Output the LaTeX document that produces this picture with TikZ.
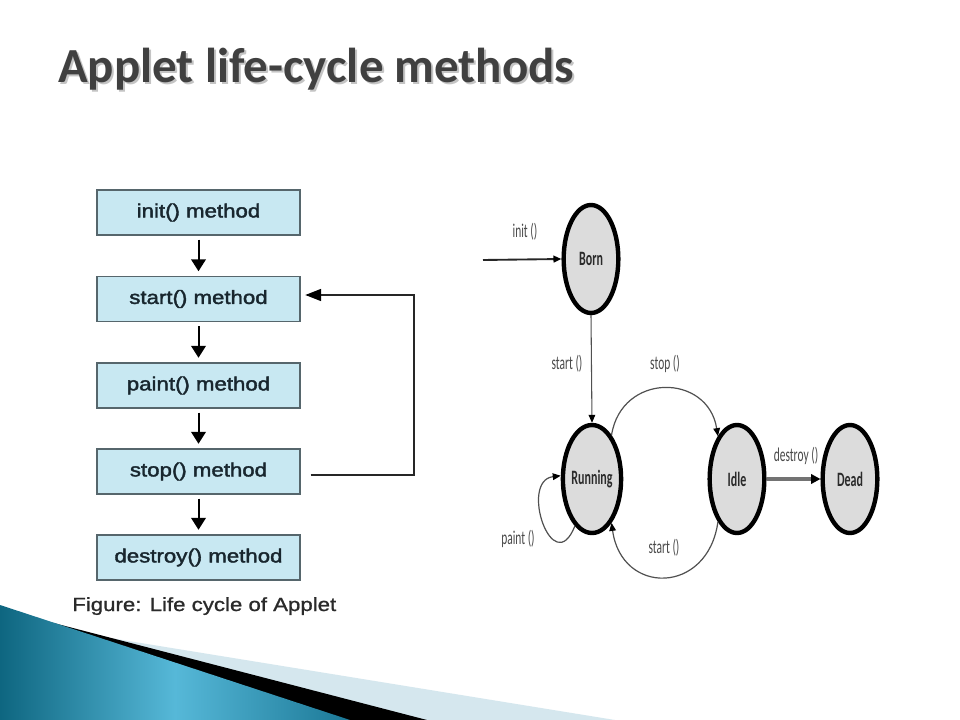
\documentclass[tikz,border=0pt]{standalone}
\usepackage{graphicx}
\usepackage{fontspec}
\setmainfont{Liberation Sans}
\newfontfamily\titlefont{Carlito}
\newfontfamily\boxfont[FakeStretch=1.17,FakeBold=2]{Liberation Sans}
\newfontfamily\capfont[FakeStretch=1.17,FakeBold=1]{Liberation Sans}
\newfontfamily\smallfont{Carlito}
\usetikzlibrary{shapes.geometric,arrows.meta}
\newcommand\myvs[1]{\scalebox{1}[1.7]{#1}}
\definecolor{boxfill}{HTML}{C8E8F2}
\definecolor{boxline}{HTML}{56666C}
\definecolor{boxtext}{HTML}{18262E}
\definecolor{statefill}{HTML}{DCDCDC}
\definecolor{statetext}{HTML}{2B2B2B}
\definecolor{lbltext}{HTML}{4A4A4A}
\definecolor{arcc}{HTML}{505050}
\definecolor{titlec}{HTML}{404040}
\definecolor{shadowc}{HTML}{C4C4C4}
\definecolor{capc}{HTML}{2A2A2A}
\definecolor{tealdark}{HTML}{0E6680}
\definecolor{teallight}{HTML}{56B8D8}
\definecolor{tealmid}{HTML}{1B7896}
\definecolor{stripc}{HTML}{D5E7EE}
\begin{document}
\begin{tikzpicture}[x=0.75pt,y=-0.75pt,
  box/.style={draw=boxline,fill=boxfill,line width=1.1pt,minimum width=152pt,minimum height=33.5pt,inner sep=0pt,font=\boxfont\fontsize{14.25}{16}\selectfont,text=boxtext},
  down/.style={line width=1.5pt,draw=black,-{Triangle[width=11pt,length=9pt]},shorten <=3pt,shorten >=3.5pt},
  state/.style={ellipse,draw=black,line width=3.3pt,fill=statefill,minimum width=41pt,minimum height=81pt,inner sep=0pt,font=\smallfont\bfseries\fontsize{9}{10}\selectfont,text=statetext},
  lbl/.style={font=\smallfont\fontsize{8.6}{10}\selectfont,text=lbltext,inner sep=0pt},
  tr/.style={draw=arcc,line width=0.9pt,-{Triangle[width=5pt,length=6pt,color=black]}}]
\useasboundingbox[fill=white] (0,0) rectangle (960,720);

% bottom swoosh
\fill[stripc] (0,630) -- (110,638) -- (615,720) -- (0,720) -- cycle;
\fill[black] (0,612) -- (46,621) -- (427,720) -- (0,720) -- cycle;
\shade[left color=tealdark,right color=tealmid,middle color=teallight] (0,605) -- (350,720) -- (0,720) -- cycle;

% title
\node[anchor=base west,inner sep=0pt,font=\titlefont\bfseries\fontsize{36.75}{40}\selectfont,text=shadowc] (titleshadow) at (60,85) {Applet life-cycle methods};
\node[anchor=base west,inner sep=0pt,font=\titlefont\bfseries\fontsize{36.75}{40}\selectfont,text=titlec] (title) at (58,83) {Applet life-cycle methods};

% left flowchart
\node[box] (b1) at (198.5,212.5) {init() method};
\node[box] (b2) at (198.5,299) {start() method};
\node[box] (b3) at (198.5,385.5) {paint() method};
\node[box] (b4) at (198.5,471.5) {stop() method};
\node[box] (b5) at (198.5,557.5) {destroy() method};
\draw[down] (b1) -- (b2);
\draw[down] (b2) -- (b3);
\draw[down] (b3) -- (b4);
\draw[down] (b4) -- (b5);
\coordinate (fbc) at (414,295);
\draw[line width=1.3pt,draw=black!85,-{Triangle[width=9pt,length=12pt,color=black]}]
  ([xshift=7.5pt,yshift=-2.6pt]b4.east) -| (fbc) -- ([xshift=3.5pt,yshift=3pt]b2.east);
\node[anchor=base west,inner sep=0pt,font=\capfont\fontsize{14.25}{16}\selectfont,text=capc] (cap) at (72,611) {Figure: Life cycle of Applet};

% state diagram
\node[state] (born) at (591,259) {\myvs{Born}};
\node[state] (run) at (592,479) {\myvs{Running}};
\node[state] (idle) at (737,479) {\myvs{Idle}};
\node[state] (dead) at (850,479) {\myvs{Dead}};

\coordinate (initsrc) at (483,260);
\draw[tr,draw=black!85,line width=1.4pt] (initsrc) -- (born.west);
\draw[tr,line width=0.8pt] (born.south) -- (run.north);
\draw[tr] (run.66) .. controls +(10,-63) and +(-10,-63) .. (idle.114);
\draw[tr] (idle.-114) .. controls +(-10,73) and +(10,73) .. (run.-66);
\draw[tr] (run.-110) .. controls +(-22,55) and +(-42,5) .. (run.174);
\draw[line width=2.4pt,draw=black!55,-{Triangle[width=7pt,length=7pt,color=black]}] (idle.east) -- (dead.west);

\node[lbl] (linit) at (525,232) {\myvs{init ()}};
\node[lbl] (lstart1) at (567,364) {\myvs{start ()}};
\node[lbl] (lstop) at (665,364) {\myvs{stop ()}};
\node[lbl] (ldestroy) at (796,456) {\myvs{destroy ()}};
\node[lbl] (lpaint) at (518,539) {\myvs{paint ()}};
\node[lbl] (lstart2) at (664,548) {\myvs{start ()}};
\end{tikzpicture}
\end{document}
